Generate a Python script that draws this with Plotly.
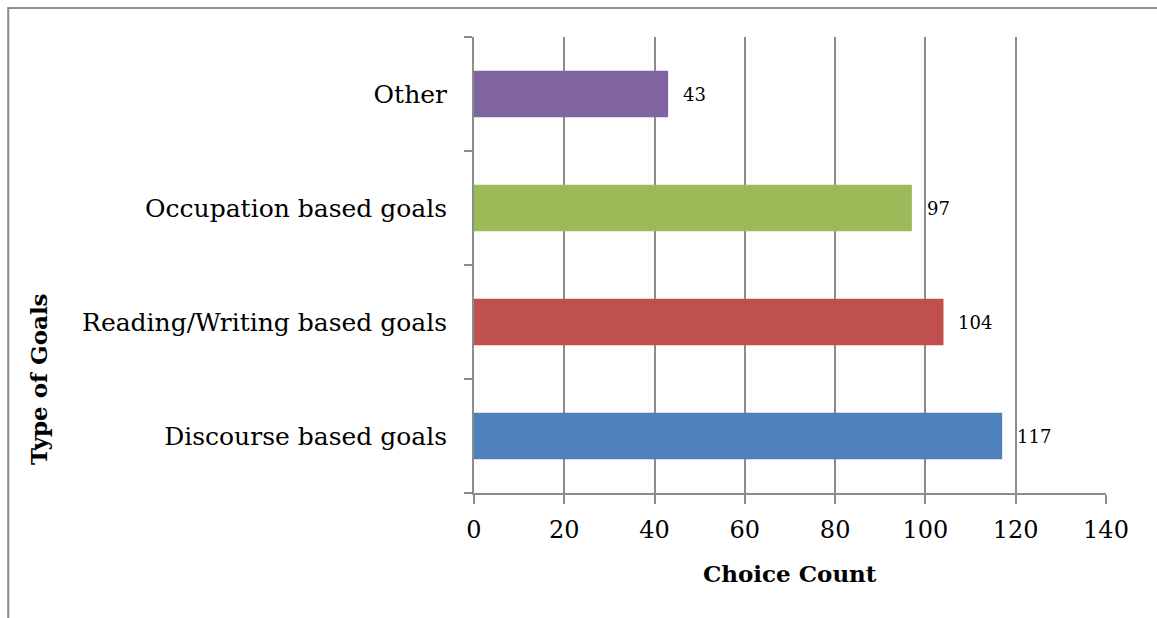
import plotly.graph_objects as go

# Survey results: how often each type of goal was chosen
goal_types = ["Discourse based goals", "Reading/Writing based goals",
              "Occupation based goals", "Other"]
choice_counts = [117, 104, 97, 43]
bar_colors = ["#4F81BD", "#C0504D", "#9BBB59", "#8064A2"]
x_ticks = [0, 20, 40, 60, 80, 100, 120, 140]

FONT = "DejaVu Serif"
GRID = "#8c8c8c"

fig = go.Figure()
fig.add_trace(go.Bar(
    y=goal_types,
    x=choice_counts,
    orientation="h",
    marker=dict(color=bar_colors, line=dict(width=0)),
    width=0.41,
    hoverinfo="x+y",
))

# value labels just past the end of each bar
for g, v in zip(goal_types, choice_counts):
    fig.add_annotation(x=v, y=g, text=str(v), showarrow=False,
                       xanchor="left", xshift=13,
                       font=dict(family=FONT, size=18, color="#000"))

fig.update_xaxes(
    range=[0, 140], tickvals=x_ticks, ticktext=[str(t) for t in x_ticks],
    showgrid=True, gridcolor=GRID, gridwidth=2,
    showline=True, linecolor=GRID, linewidth=2,
    ticks="outside", ticklen=9, tickwidth=2, tickcolor=GRID,
    ticklabelstandoff=5,
    tickfont=dict(family=FONT, size=24, color="#000"),
    zeroline=False, fixedrange=True,
)
fig.update_yaxes(
    categoryorder="array", categoryarray=goal_types, range=[-0.5, 3.5],
    showgrid=False, showline=True, linecolor=GRID, linewidth=2,
    ticks="outside", tickson="boundaries", ticklen=8, tickwidth=2,
    tickcolor=GRID, ticklabelstandoff=20,
    tickfont=dict(family=FONT, size=25, color="#000"),
    zeroline=False, fixedrange=True,
)

# axis titles
fig.add_annotation(text="<b>Choice Count</b>", xref="paper", yref="paper",
                   x=0.5, y=-0.177, yanchor="middle", showarrow=False,
                   font=dict(family=FONT, size=23, color="#000"))
fig.add_annotation(text="<b>Type of Goals</b>", xref="paper", yref="paper",
                   x=-0.69, y=0.25, xanchor="center", yanchor="middle",
                   textangle=-90, showarrow=False,
                   font=dict(family=FONT, size=23, color="#000"))

# chart frame
fig.add_shape(type="rect", xref="paper", yref="paper",
              x0=-0.737, y0=-0.5, x1=1.3, y1=1.0636,
              line=dict(color="#8c8c8c", width=2), layer="below")

fig.update_layout(
    width=1157, height=618,
    margin=dict(l=474, r=51, t=37, b=125),
    paper_bgcolor="white", plot_bgcolor="white",
    showlegend=False, bargap=0.59,
)

fig.write_html("out.html")
